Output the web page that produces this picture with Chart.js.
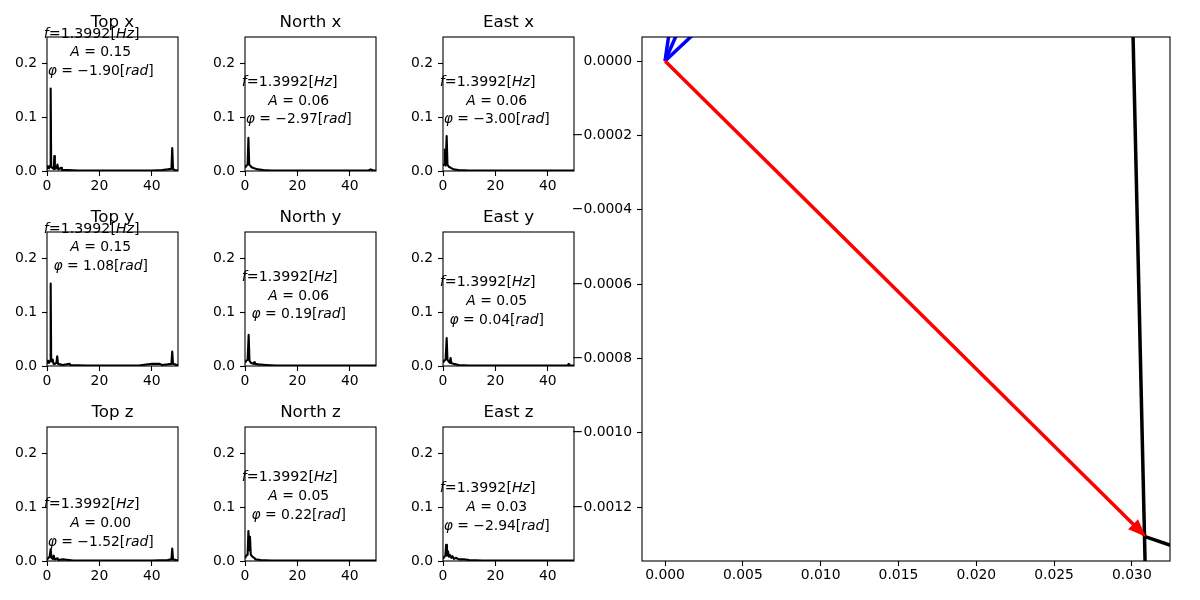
<!DOCTYPE html>
<html><head><meta charset="utf-8">
<script src="https://cdn.jsdelivr.net/npm/chart.js@4.4.1/dist/chart.umd.min.js"></script>
<style>
html,body{margin:0;padding:0;background:#fff;}
#fig{position:relative;width:1200px;height:600px;overflow:hidden;background:#fff;}
canvas{position:absolute;}
</style></head><body><div id="fig"></div>
<script>
// ---------------- data ----------------
const titles = ["Top x","North x","East x","Top y","North y","East y","Top z","North z","East z"];
const peakFreq = "1.3992";
const amplitudes = [0.15,0.06,0.06,0.15,0.06,0.05,0.00,0.05,0.03];
const phases = [-1.90,-2.97,-3.00,1.08,0.19,0.04,-1.52,0.22,-2.94];
const specXTicks = [0,20,40];
const specYTicks = [0,0.1,0.2];

const topX = [[0,0.003],[0.4,0.009],[0.8,0.005],[1.2,0.01],[1.4,0.154],[1.6,0.008],[2.0,0.006],[2.6,0.004],[2.8,0.028],[3.0,0.004],[3.6,0.005],[4.0,0.012],[4.3,0.003],[5.4,0.006],[5.7,0.002],[8,0.002],[12,0.001],[20,0.001],[30,0.001],[40,0.001],[44,0.002],[46,0.003],[47.5,0.004],[47.8,0.043],[48.1,0.004],[48.6,0.002],[50,0.001]];
const northX = [[0,0.006],[0.5,0.01],[1.0,0.012],[1.3,0.062],[1.6,0.012],[2.0,0.01],[2.5,0.007],[3.5,0.005],[5,0.003],[7,0.002],[10,0.001],[20,0.001],[30,0.001],[40,0.001],[47,0.001],[48,0.003],[49,0.001],[50,0.001]];
const eastX = [[0,0.01],[0.4,0.012],[0.7,0.04],[1.0,0.01],[1.4,0.065],[1.7,0.012],[2.2,0.008],[3,0.006],[4,0.003],[6,0.002],[10,0.001],[25,0.001],[40,0.001],[50,0.001]];
const topY = [[0,0.004],[0.4,0.01],[0.8,0.006],[1.2,0.01],[1.4,0.154],[1.6,0.01],[2.0,0.008],[2.2,0.012],[2.5,0.004],[3.0,0.004],[3.6,0.006],[3.9,0.018],[4.2,0.004],[6,0.002],[8.6,0.004],[9,0.002],[15,0.001],[25,0.001],[35,0.001],[40,0.004],[43,0.004],[44,0.002],[46,0.003],[47.5,0.004],[47.8,0.027],[48.1,0.004],[50,0.001]];
const northY = [[0,0.006],[0.5,0.01],[1.0,0.012],[1.4,0.058],[1.7,0.01],[2.2,0.006],[3.2,0.004],[3.5,0.007],[3.8,0.004],[5,0.003],[8,0.002],[12,0.001],[25,0.001],[40,0.001],[50,0.001]];
const eastY = [[0,0.006],[0.5,0.01],[1.0,0.012],[1.4,0.052],[1.7,0.012],[2.2,0.008],[2.6,0.006],[2.9,0.015],[3.2,0.005],[4,0.004],[6,0.002],[10,0.001],[25,0.001],[40,0.001],[47.5,0.001],[48,0.004],[48.5,0.001],[50,0.001]];
const topZ = [[0,0.003],[0.6,0.006],[1.0,0.008],[1.4,0.022],[1.7,0.006],[2.2,0.004],[2.6,0.01],[2.9,0.003],[4,0.005],[4.3,0.002],[6,0.003],[10,0.001],[20,0.001],[30,0.001],[40,0.001],[46,0.002],[47.5,0.003],[47.8,0.023],[48.1,0.003],[50,0.001]];
const northZ = [[0,0.005],[0.5,0.01],[1.0,0.012],[1.3,0.056],[1.6,0.02],[1.9,0.045],[2.2,0.012],[2.8,0.008],[3.5,0.006],[4,0.003],[6,0.002],[10,0.001],[25,0.001],[40,0.001],[50,0.001]];
const eastZ = [[0,0.004],[0.5,0.008],[0.9,0.01],[1.2,0.03],[1.5,0.01],[1.9,0.018],[2.3,0.008],[2.7,0.011],[3.2,0.006],[3.6,0.009],[4.2,0.004],[5,0.006],[6,0.003],[8,0.003],[10,0.002],[15,0.001],[25,0.001],[40,0.001],[50,0.001]];
const spectra = [topX,northX,eastX,topY,northY,eastY,topZ,northZ,eastZ];

const posXTicks = [0,0.005,0.010,0.015,0.020,0.025,0.030];
const posYTicks = [0,-0.0002,-0.0004,-0.0006,-0.0008,-0.0010,-0.0012];
const posXRange = [-0.00148,0.03245];
const posYRange = [-0.001345,0.0000646];
const redArrow = [[0,0],[0.0309,-0.00128]];
const blueLines = [[[0,0],[0.000697,0.0002]],[[0,0],[0.00209,0.0002]],[[0,0],[0.00508,0.0002]]];
const blackLines = [[[0.030003,0.0002],[0.030878,-0.0014]],[[0.0309,-0.00128],[0.0335,-0.001317]]];

// ---------------- helpers ----------------
const fig = document.getElementById('fig');
const FONT = '"DejaVu Sans"';
Chart.defaults.font.family = FONT;
Chart.defaults.color = '#000';

function pts(a){ return a.map(p=>({x:p[0],y:p[1]})); }
function minusFmt(v,d){ return (v < -1e-12 ? '\u2212' : '') + Math.abs(v).toFixed(d); }

function richLine(ctx, segs, cx, y, size){
  const fonts = segs.map(s => (s[1] ? 'italic ' : '') + size + 'px ' + FONT);
  let total = 0;
  segs.forEach((s,i)=>{ ctx.font = fonts[i]; total += ctx.measureText(s[0]).width; });
  let x = cx - total/2;
  ctx.textAlign = 'left'; ctx.textBaseline = 'alphabetic';
  segs.forEach((s,i)=>{ ctx.font = fonts[i]; ctx.fillText(s[0], x, y); x += ctx.measureText(s[0]).width; });
}

function frameAndTitle(title){
  return {
    id:'frame',
    afterDatasetsDraw(chart){
      const ctx = chart.ctx, a = chart.chartArea;
      ctx.save();
      ctx.strokeStyle = '#000'; ctx.lineWidth = 1.1;
      ctx.strokeRect(a.left, a.top, a.right - a.left, a.bottom - a.top);
      if (title){
        ctx.fillStyle = '#000';
        ctx.font = '16.7px ' + FONT;
        ctx.textAlign = 'center'; ctx.textBaseline = 'alphabetic';
        ctx.fillText(title, (a.left + a.right)/2, a.top - 10);
      }
      ctx.restore();
    }
  };
}

function addChart(box, m, cfg){
  const c = document.createElement('canvas');
  c.width = m.l + box.w + m.r; c.height = m.t + box.h + m.b;
  c.style.left = (box.l - m.l) + 'px'; c.style.top = (box.t - m.t) + 'px';
  c.style.width = c.width + 'px'; c.style.height = c.height + 'px';
  fig.appendChild(c);
  const o = cfg.options;
  o.responsive = false; o.devicePixelRatio = 1; o.animation = false;
  o.layout = {autoPadding:false, padding:{left:0, top:m.t, right:m.r, bottom:0}};
  o.scales.x.afterFit = s => { s.height = m.b; };
  o.scales.y.afterFit = s => { s.width = m.l; };
  o.plugins = Object.assign({legend:{display:false}, tooltip:{enabled:false}}, o.plugins || {});
  return new Chart(c, cfg);
}

function axisCommon(){
  return {
    type:'linear',
    border:{display:false},
    grid:{display:true, drawOnChartArea:false, drawTicks:true, tickLength:5, tickWidth:1.1, tickColor:'#000'},
  };
}

// ---------------- spectra subplots ----------------
const colL = [47,245,443];
const rowT = [37,232,427];
const sm = {l:50, t:40, r:40, b:30};

spectra.forEach((spec, i) => {
  const box = {l: colL[i%3], t: rowT[Math.floor(i/3)], w:131, h:134};
  const A = amplitudes[i], ph = phases[i];
  const annot = {
    id:'annot',
    afterDatasetsDraw(chart){
      const ctx = chart.ctx;
      const cx = chart.scales.x.getPixelForValue(20.5);
      const b2 = chart.scales.y.getPixelForValue(A + 0.075) + 6;
      ctx.save(); ctx.fillStyle = '#000';
      richLine(ctx, [['f',1],['=' + peakFreq + '[',0],['Hz',1],[']',0]], cx - 9, b2 - 18.8, 14.2);
      richLine(ctx, [['A',1],[' = ' + A.toFixed(2),0]], cx, b2, 13.9);
      richLine(ctx, [['\u03c6',1],[' = ' + minusFmt(ph,2) + '[',0],['rad',1],[']',0]], cx, b2 + 18.8, 13.9);
      ctx.restore();
    }
  };
  const xs = Object.assign(axisCommon(), {
    min:0, max:50,
    afterBuildTicks: s => { s.ticks = specXTicks.map(v=>({value:v})); },
    ticks:{font:{size:13.9}, color:'#000', padding:2, maxRotation:0, callback:v=>String(v)}
  });
  const ys = Object.assign(axisCommon(), {
    min:0, max:0.25,
    afterBuildTicks: s => { s.ticks = specYTicks.map(v=>({value:v})); },
    ticks:{font:{size:13.9}, color:'#000', padding:5, callback:v=>v.toFixed(1)}
  });
  addChart(box, sm, {
    type:'line',
    data:{datasets:[{data:pts(spec), borderColor:'#000', borderWidth:2.1, pointRadius:0, borderJoinStyle:'round', tension:0}]},
    options:{scales:{x:xs, y:ys}},
    plugins:[frameAndTitle(titles[i]), annot]
  });
});

// ---------------- position panel ----------------
const arrowHeads = {
  id:'arrowHeads',
  afterDatasetsDraw(chart){
    const ctx = chart.ctx;
    chart.data.datasets.forEach((ds, i) => {
      if (!ds.arrowHead) return;
      const el = chart.getDatasetMeta(i).data;
      const p0 = el[el.length-2], p1 = el[el.length-1];
      const dx = p1.x - p0.x, dy = p1.y - p0.y, L = Math.hypot(dx,dy);
      const ux = dx/L, uy = dy/L, len = 18, hw = 7;
      ctx.save(); ctx.fillStyle = ds.borderColor;
      ctx.beginPath();
      ctx.moveTo(p1.x, p1.y);
      ctx.lineTo(p1.x - ux*len - uy*hw, p1.y - uy*len + ux*hw);
      ctx.lineTo(p1.x - ux*len + uy*hw, p1.y - uy*len - ux*hw);
      ctx.closePath(); ctx.fill(); ctx.restore();
    });
  }
};

const lineDs = (arr, color, extra) => Object.assign({data:pts(arr), borderColor:color, borderWidth:3.5, pointRadius:0, clip:0, tension:0, borderCapStyle:'butt'}, extra||{});
const posDatasets = [];
blackLines.forEach(l => posDatasets.push(lineDs(l, '#000')));
posDatasets.push(lineDs(redArrow, '#ff0000', {arrowHead:true}));
blueLines.forEach(l => posDatasets.push(lineDs(l, '#0000ff')));

addChart({l:642, t:37, w:528, h:524}, {l:80, t:30, r:25, b:35}, {
  type:'line',
  data:{datasets:posDatasets},
  options:{scales:{
    x: Object.assign(axisCommon(), {
      min:posXRange[0], max:posXRange[1],
      afterBuildTicks: s => { s.ticks = posXTicks.map(v=>({value:v})); },
      ticks:{font:{size:13.9}, color:'#000', padding:1, maxRotation:0, callback:v=>v.toFixed(3)}
    }),
    y: Object.assign(axisCommon(), {
      min:posYRange[0], max:posYRange[1],
      afterBuildTicks: s => { s.ticks = posYTicks.map(v=>({value:v})); },
      ticks:{font:{size:13.9}, color:'#000', padding:5, callback:v=>minusFmt(v,4)}
    })
  }},
  plugins:[frameAndTitle(null), arrowHeads]
});
</script></body></html>
